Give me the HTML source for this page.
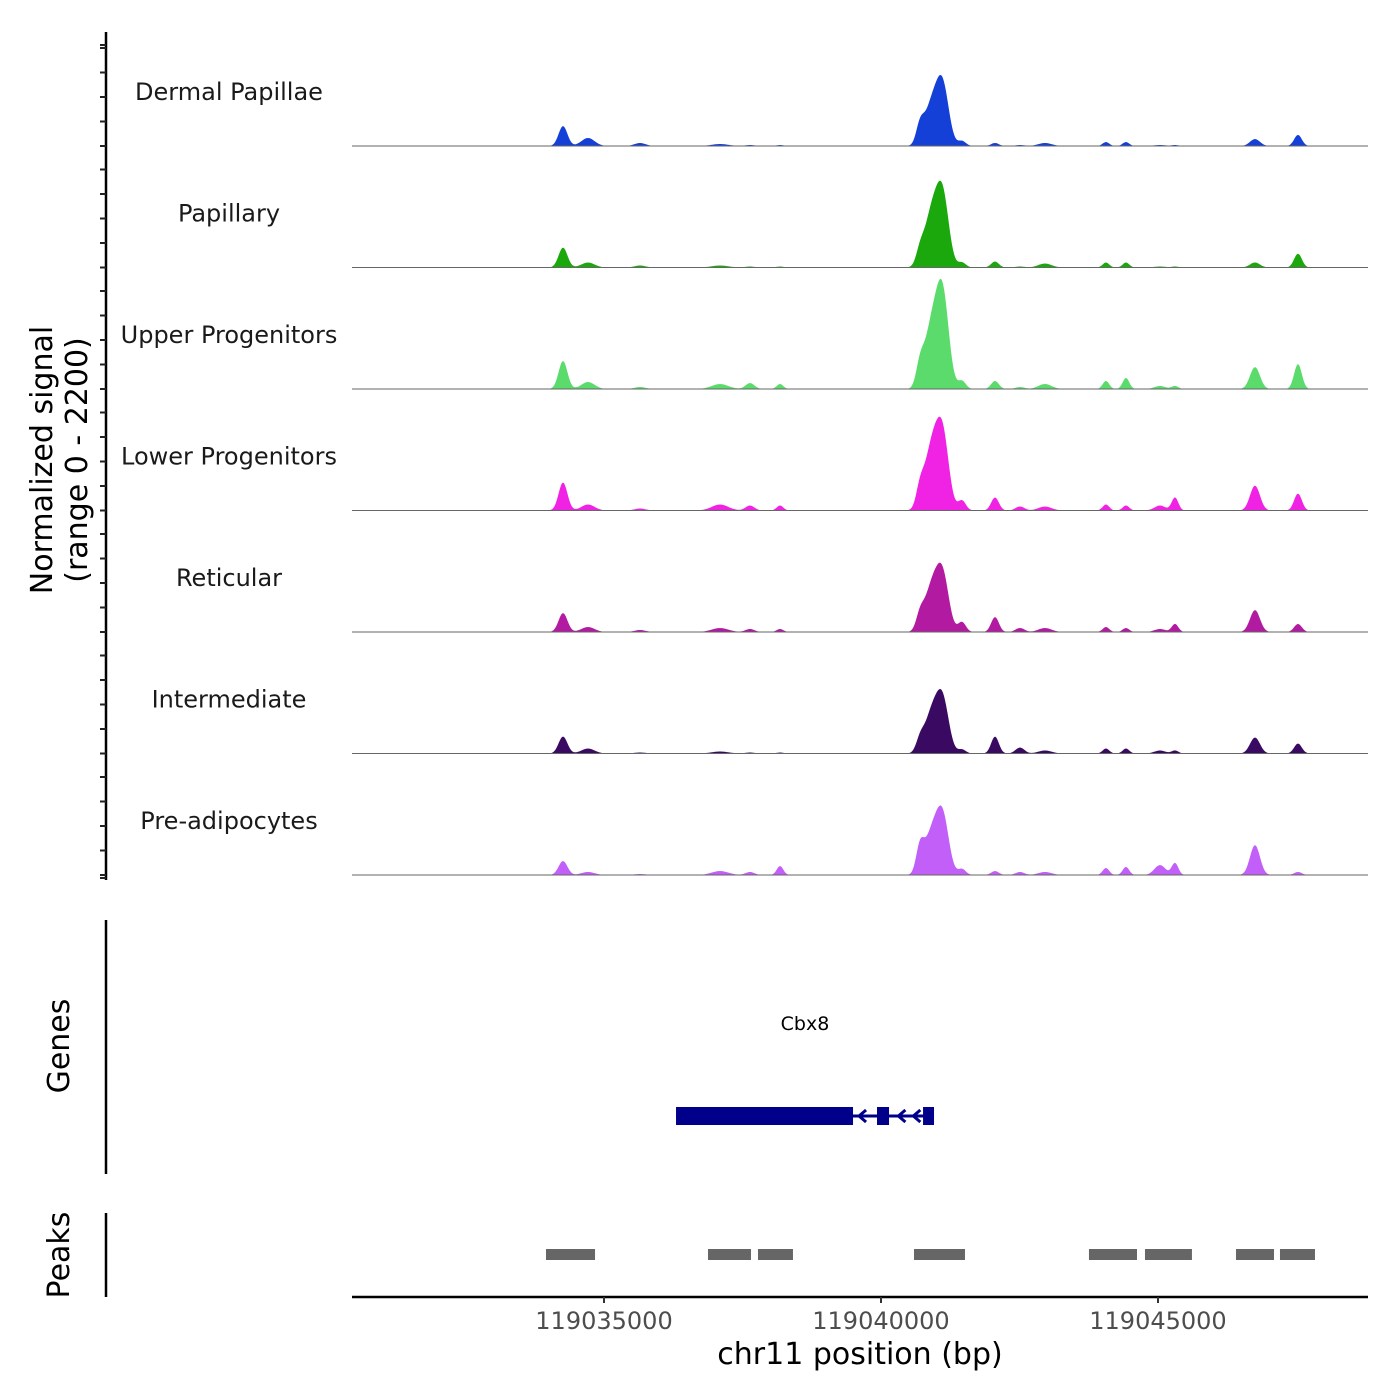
<!DOCTYPE html>
<html><head><meta charset="utf-8"><style>
body{margin:0;background:#fff}
svg{display:block;font-family:"DejaVu Sans","Liberation Sans",sans-serif}
</style></head><body>
<svg id="chart" width="1400" height="1400" viewBox="0 0 1400 1400" xmlns="http://www.w3.org/2000/svg">
<rect width="1400" height="1400" fill="#fff"/>
<g id="tracks"></g>
<g id="axes"></g>
</svg>
<script>
const trackNames = ["Dermal Papillae","Papillary","Upper Progenitors","Lower Progenitors","Reticular","Intermediate","Pre-adipocytes"];
const trackColors = ["#1440d8","#1aa80c","#5bdb6b","#f022e4","#b21aa2","#3a0a62","#c15ff8"];
const peakCenters = [119034260,119034711,119035650,119037094,119037635,119038177,119040704,119040920,119041119,119041462,119042058,119042509,119042960,119044061,119044422,119045036,119045307,119046751,119047527];
const peakWidths = [80,120,100,150,80,60,70,130,110,70,70,80,120,60,60,100,60,90,70];
const signalDP  = [360,145,55,36,18,18,320,760,990,90,55,18,55,72,72,18,18,126,200];
const signalPap = [360,90,36,36,18,18,235,1000,1170,90,108,18,72,90,90,18,18,90,250];
const signalUP  = [505,126,36,90,108,90,360,1150,1550,145,145,36,90,145,200,55,55,396,450];
const signalLP  = [505,108,36,108,90,90,325,1150,1220,180,235,72,72,108,90,90,235,450,306];
const signalRet = [342,90,36,72,55,55,252,820,920,180,270,72,72,90,72,55,145,396,145];
const signalInt = [306,90,18,36,18,18,200,740,870,72,306,108,55,90,90,55,55,288,180];
const signalPre = [252,55,18,72,55,162,450,760,960,108,72,55,55,126,145,180,216,540,55];
const trackSignals = [signalDP,signalPap,signalUP,signalLP,signalRet,signalInt,signalPre];
const xTicks = [119035000,119040000,119045000];
const xTickLabels = ["119035000","119040000","119045000"];
const geneName = "Cbx8";
const geneStart = 119036300, geneEnd = 119040957;
const exonStarts = [119036300,119039928,119040759];
const exonEnds   = [119039495,119040145,119040957];
const intronArrows = [119039640,119040350,119040620];
const peakStarts = [119033953,119036877,119037780,119040596,119043754,119044765,119046408,119047202];
const peakEnds   = [119034838,119037653,119038411,119041516,119044621,119045613,119047094,119047834];

const NS="http://www.w3.org/2000/svg";
const X0=352,X1=1368,BP0=119030451,BP1=119048791;
const x=bp=>X0+(bp-BP0)/(BP1-BP0)*(X1-X0);
const trackH=121.5, ymax=2200;
const baseY=i=>146+i*121.5;
const ySig=(i,v)=>baseY(i)-v/ymax*trackH;
function mk(tag,attrs,parent){const e=document.createElementNS(NS,tag);for(const k in attrs)e.setAttribute(k,attrs[k]);parent.appendChild(e);return e;}
const T=document.getElementById('tracks'), A=document.getElementById('axes');

trackSignals.forEach((sig,i)=>{
  let pts=[];
  for(let px=X0;px<=1323;px+=1){
    const bp=BP0+(px-X0)/(X1-X0)*(BP1-BP0);
    let v=0;
    for(let k=0;k<peakCenters.length;k++){const d=(bp-peakCenters[k])/peakWidths[k];v+=sig[k]*Math.exp(-0.5*d*d);}
    pts.push(px.toFixed(1)+","+ySig(i,v).toFixed(1));
  }
  const p=mk('polygon',{points:X0+","+baseY(i)+" "+pts.join(" ")+" 1323,"+baseY(i),fill:trackColors[i]},T);
  
  
  const bl=mk('line',{x1:X0,x2:X1,y1:baseY(i),y2:baseY(i),stroke:'#666','stroke-width':1},T);
  
  
  const t=mk('text',{x:229,y:baseY(i)-46,'text-anchor':'middle','font-size':24,fill:'#1a1a1a'},T);
  t.textContent=trackNames[i];
  
  
});

// left axes
mk('line',{x1:106,x2:106,y1:32,y2:880,stroke:'#000','stroke-width':2.5},A);
for(let i=0;i<7;i++){for(let o=0;o<5;o++){const y=baseY(i)-o*24.5;if(y<34)continue;mk('line',{x1:100,x2:106,y1:y,y2:y,stroke:'#222','stroke-width':2},A);}}
mk('line',{x1:100,x2:106,y1:45,y2:45,stroke:'#222','stroke-width':2},A);
mk('line',{x1:100,x2:106,y1:878,y2:878,stroke:'#222','stroke-width':2},A);
const yt=mk('text',{transform:'translate(52,460) rotate(-90)','text-anchor':'middle','font-size':30,fill:'#000'},A);
yt.innerHTML='<tspan x="0" dy="0">Normalized signal</tspan><tspan x="0" dy="35">(range 0 - 2200)</tspan>';



// genes
mk('line',{x1:106,x2:106,y1:920,y2:1174,stroke:'#000','stroke-width':2.5},A);
const gt=mk('text',{transform:'translate(69,1046) rotate(-90)','text-anchor':'middle','font-size':30,fill:'#000'},A);gt.textContent='Genes';


const gl=mk('text',{x:805,y:1030,'text-anchor':'middle','font-size':19,fill:'#000'},A);gl.textContent=geneName;


const gline=mk('line',{x1:x(geneStart),x2:x(geneEnd),y1:1116,y2:1116,stroke:'#00008b','stroke-width':3},A);


exonStarts.forEach((s,k)=>{const r=mk('rect',{x:x(s),y:1107,width:x(exonEnds[k])-x(s),height:18,fill:'#00008b'},A);

});
intronArrows.forEach(bp=>{const px=x(bp);mk('path',{d:`M${px+5},1110 L${px-2},1116 L${px+5},1122`,stroke:'#00008b','stroke-width':3,fill:'none'},A);});

// peaks
mk('line',{x1:106,x2:106,y1:1213,y2:1297,stroke:'#000','stroke-width':2.5},A);
const pt=mk('text',{transform:'translate(69,1255) rotate(-90)','text-anchor':'middle','font-size':30,fill:'#000'},A);pt.textContent='Peaks';


peakStarts.forEach((s,k)=>{const r=mk('rect',{x:x(s),y:1249,width:x(peakEnds[k])-x(s),height:11,fill:'#666'},A);

});

// x axis
const xa=mk('line',{x1:X0,x2:X1,y1:1297,y2:1297,stroke:'#000','stroke-width':2.5},A);


xTicks.forEach((v,k)=>{mk('line',{x1:x(v),x2:x(v),y1:1297,y2:1303,stroke:'#333','stroke-width':2},A);
const t=mk('text',{x:x(v),y:1329,'text-anchor':'middle','font-size':24,fill:'#4d4d4d'},A);t.textContent=xTickLabels[k];

});
const xt=mk('text',{x:860,y:1364,'text-anchor':'middle','font-size':30,fill:'#000'},A);xt.textContent='chr11 position (bp)';


</script>
</body></html>
